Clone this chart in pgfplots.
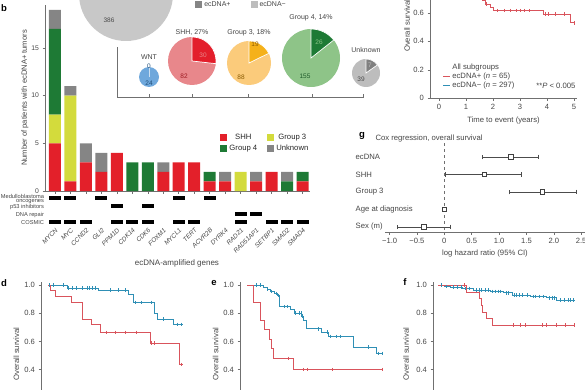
\documentclass[border=0pt]{standalone}
\usepackage{fontspec}
\setmainfont{Liberation Sans}
\usepackage{pgfplots}
\pgfplotsset{compat=1.18}
\definecolor{shh}{HTML}{E3202A}
\definecolor{gthree}{HTML}{D3DB3C}
\definecolor{gfour}{HTML}{1E7A35}
\definecolor{unk}{HTML}{858585}
\definecolor{txt}{HTML}{454545}
\definecolor{axc}{HTML}{707070}
\definecolor{kmred}{HTML}{D9545C}
\definecolor{kmblue}{HTML}{2F8FB5}
\definecolor{wntl}{HTML}{6FA8DC}\definecolor{wntt}{HTML}{1F4E79}
\definecolor{shhl}{HTML}{E8878B}\definecolor{shhd}{HTML}{E31E2B}\definecolor{shht}{HTML}{9E1B22}
\definecolor{g3l}{HTML}{FBCB7B}\definecolor{g3d}{HTML}{F5B11A}\definecolor{g3t}{HTML}{8A5A00}
\definecolor{g4l}{HTML}{8EC488}\definecolor{g4d}{HTML}{1E7A35}\definecolor{g4t}{HTML}{1E5A2A}
\definecolor{unl}{HTML}{BDBDBD}\definecolor{und}{HTML}{808080}\definecolor{unt}{HTML}{4A4A4A}
\definecolor{bigl}{HTML}{C8C8C8}
\newcommand{\fs}[1]{\fontsize{#1}{#1}\selectfont}
\pgfdeclareplotmark{hbar}{\pgfpathrectangle{\pgfpoint{-6pt}{-2pt}}{\pgfpoint{12pt}{4pt}}\pgfusepathqfill}
\newcommand{\pie}[7]{%
  \fill[#6] (axis cs:#1,#2) circle[radius=#3pt];
  \filldraw[fill=#7, draw=white, line width=0.7pt] (axis cs:#1,#2) -- ++(0pt,#3pt) arc[start angle=90, delta angle={-360*(#4/(#4+#5))}, radius=#3pt] -- cycle;}
\pgfplotsset{
 base/.style={scale only axis, anchor=south west, clip=false,
   /pgf/number format/assume math mode=true,
   font=\fs{7.5},
   tick label style={text=txt, font=\fs{7.6}},
   label style={text=txt, font=\fs{7.7}},
   axis line style={axc, line width=0.5pt, -},
   tick style={axc, line width=0.5pt},
   tick align=outside, major tick length=2.5pt},
 km/.style={base, ymin=0, ymax=1.02,
   axis x line*=bottom, axis y line*=left,
   ytick={0,0.2,0.4,0.6,0.8,1.0}, yticklabels={0,0.2,0.4,0.6,0.8,1.0},
   xtick={0,1,2,3,4,5},
   ylabel={Overall survival},
   ylabel style={at={(axis description cs:-0.169,0.5)}, anchor=center}},
 kml/.style={const plot, line width=0.6pt},
 cens/.style={only marks, mark=|, mark size=1.8pt, line width=0.5pt, forget plot},
 sqleg/.style={legend image code/.code={\fill[##1, draw=none] (0pt,-3.5pt) rectangle (7pt,3.5pt);}},
 lineleg/.style={legend image code/.code={\draw[##1] (0pt,0pt) -- (7pt,0pt);}},
}
\begin{document}
\begin{tikzpicture}
\useasboundingbox (0,0) rectangle (585pt,-390pt);
% ---------------- b: stacked bars
\begin{axis}[base, at={(45pt,-191pt)}, width=265pt, height=186pt,
  ybar stacked, bar width=12pt,
  xmin=-0.646, xmax=16.485, ymin=0, ymax=19.5,
  axis x line*=bottom, axis y line*=left,
  xtick={0,...,16}, xticklabels={},
  ytick={0,5,10,15},
  tick label style={font=\fs{6.8}},
  ylabel={Number of patients with ecDNA+ tumors},
  ylabel style={font=\fs{7.6}, at={(axis description cs:-0.0755,0.5)}, anchor=center},
  legend columns=2,
  legend style={at={(axis description cs:0.65,0.33)}, anchor=north west, draw=none, fill=none, font=\fs{7.7}, text=black!85, /tikz/every even column/.append style={column sep=8pt}},
]
\addplot[fill=shh, draw=none, sqleg] coordinates {(0,5)(1,1)(2,3)(3,2)(4,4)(5,0)(6,0)(7,2)(8,3)(9,3)(10,1)(11,1)(12,0)(13,1)(14,2)(15,0)(16,1)};
\addplot[fill=gthree, draw=none, sqleg] coordinates {(0,3)(1,9)(2,0)(3,0)(4,0)(5,0)(6,0)(7,0)(8,0)(9,0)(10,0)(11,0)(12,2)(13,0)(14,0)(15,0)(16,0)};
\addplot[fill=gfour, draw=none, sqleg] coordinates {(0,9)(1,0)(2,0)(3,0)(4,0)(5,3)(6,3)(7,0)(8,0)(9,0)(10,1)(11,0)(12,0)(13,0)(14,0)(15,1)(16,1)};
\addplot[fill=unk, draw=none, sqleg] coordinates {(0,2)(1,1)(2,2)(3,2)(4,0)(5,0)(6,0)(7,1)(8,0)(9,0)(10,0)(11,1)(12,0)(13,1)(14,0)(15,1)(16,0)};
\legend{SHH, Group 3, Group 4, Unknown}
\end{axis}
% ---------------- b: annotation matrix
\begin{axis}[base, at={(45pt,-226pt)}, width=265pt, height=32pt,
  xmin=-0.646, xmax=16.485, ymin=0.5, ymax=4.5, y dir=reverse,
  axis line style={draw=none}, major tick length=0pt,
  xtick={0,...,16},
  xticklabels={MYCN,MYC,CCND2,GLI2,PPM1D,CDK14,CDK6,FOXM1,MYCL1,TERT,ACVR2B,DYRK4,RAD21,RAD51AP1,SETBP1,SMAD2,SMAD4},
  xticklabel style={rotate=45, anchor=north east, font=\fs{6.4}\itshape, inner sep=1pt},
  ytick={1,2,3,4},
  yticklabels={{Medulloblastoma\\[-2.2pt]oncogenes}, p53 inhibitors, DNA repair, COSMIC},
  yticklabel style={align=right, font=\fs{5.7}, inner sep=0.8pt, yshift=-1pt},
]
\addplot[only marks, mark=hbar, black] coordinates {(0,1)(1,1)(3,1)(8,1)(10,1)(4,2)(6,2)(12,3)(13,3)(0,4)(1,4)(2,4)(4,4)(5,4)(6,4)(8,4)(9,4)(12,4)(14,4)(15,4)(16,4)};
\end{axis}
\node[font=\fs{8}, text=txt] at (177pt,-263pt) {ecDNA-amplified genes};
% ---------------- pie inset
\begin{axis}[base, at={(117pt,-97pt)}, width=247pt, height=50pt,
  xmin=117, xmax=364, ymin=-97, ymax=-47,
  axis x line*=bottom, axis y line*=left,
  xtick={149,192,248,312,363}, xticklabels={}, ytick=\empty,
  tick align=inside, major tick length=3pt,
  legend columns=2,
  legend style={at={(axis description cs:0.304,2.0)}, anchor=north west, draw=none, fill=none, font=\fs{7}, text=txt, /tikz/every even column/.append style={column sep=18pt}},
]
\addlegendimage{sqleg, fill=unk}\addlegendentry{ecDNA+}
\addlegendimage{sqleg, fill=unl}\addlegendentry{ecDNA−}
\pie{126}{6}{47}{82}{386}{bigl}{und}
\node[font=\fs{6.5}, text=unt] at (axis cs:109,-20) {386};
\pie{149}{-77}{10}{0}{24}{wntl}{wntl}
\node[font=\fs{7}, text=txt] at (axis cs:149,-57) {WNT};
\node[font=\fs{6.5}, text=wntt] at (axis cs:149,-66) {0};
\node[font=\fs{6.5}, text=wntt] at (axis cs:149,-83) {24};
\pie{192}{-61}{24}{30}{82}{shhl}{shhd}
\node[font=\fs{7}, text=txt] at (axis cs:192,-33) {SHH, 27\%};
\node[font=\fs{6.5}, text=shhl] at (axis cs:203,-55) {30};
\node[font=\fs{6.5}, text=shht] at (axis cs:184,-76) {82};
\pie{249}{-63}{22}{19}{88}{g3l}{g3d}
\node[font=\fs{7}, text=txt] at (axis cs:249,-33) {Group 3, 18\%};
\node[font=\fs{6.5}, text=g3t] at (axis cs:255,-44) {19};
\node[font=\fs{6.5}, text=g3t] at (axis cs:241,-77) {88};
\pie{311}{-58}{29}{26}{155}{g4l}{g4d}
\node[font=\fs{7}, text=txt] at (axis cs:311,-18) {Group 4, 14\%};
\node[font=\fs{6.5}, text=g4l] at (axis cs:319,-42) {26};
\node[font=\fs{6.5}, text=g4t] at (axis cs:305,-76) {155};
\pie{366}{-73}{14}{7}{39}{unl}{und}
\node[font=\fs{7}, text=txt] at (axis cs:366,-50) {Unknown};
\node[font=\fs{6.5}, text=unl] at (axis cs:370,-65) {7};
\node[font=\fs{6.5}, text=unt] at (axis cs:361,-79) {39};
\end{axis}
% ---------------- g: forest plot
\begin{axis}[base, at={(385pt,-232pt)}, width=200pt, height=89pt,
  xmin=-1.084, xmax=2.57, ymin=0.2, ymax=5.29, y dir=reverse,
  axis x line*=bottom, axis y line*=left, y axis line style={draw=none},
  xtick={-1,-0.5,0,0.5,1,1.5,2,2.5},
  xticklabels={−1.0,−0.5,0,0.5,1.0,1.5,2.0,2.5},
  ytick={1,2,3,4,5}, yticklabels={ecDNA,SHH,Group 3,Age at diagnosis,Sex (m)},
  y tick style={draw=none},
  yticklabel style={anchor=west, xshift=-27pt, inner sep=0pt, font=\fs{7.7}, text=txt},
  xlabel={log hazard ratio (95\% CI)},
]
\addplot[axc, dashed, line width=0.5pt] coordinates {(0,0.2)(0,5.29)};
\addplot[only marks, mark=square*, mark size=2.3pt, mark options={fill=white, draw=black!75, line width=0.6pt, solid},
  error bars/.cd, x dir=both, x explicit, error bar style={black!70, line width=0.6pt}] coordinates {
 (1.21,1) += (0.51,0) -= (0.51,0)
 (0.73,2) += (0.68,0) -= (0.71,0)
 (1.79,3) += (0.62,0) -= (0.61,0)
 (0.0,4) += (0.01,0) -= (0.01,0)
 (-0.38,5) += (0.48,0) -= (0.49,0)
};
\end{axis}
\node[font=\fs{7.7}, text=txt, anchor=west] at (372pt,-139pt) {Cox regression, overall survival};
% ---------------- c: KM all subgroups
\begin{axis}[km, at={(430pt,-98.3pt)}, width=147pt, height=145.4pt, xmin=-0.333, xmax=5.11,
  xlabel={Time to event (years)},
  ylabel style={at={(axis description cs:-0.156,0.5)}},
  legend style={at={(axis description cs:0.065,0.262)}, anchor=north west, draw=none, fill=none, font=\fs{7.7}, text=txt, row sep=-2.5pt},
  legend cell align=left,
]
\addlegendimage{empty legend}\addlegendentry{All subgroups}
\addplot[kmred, kml, lineleg] coordinates {(0,1)(0.3,0.97)(0.6,0.92)(0.9,0.86)(1.1,0.80)(1.3,0.75)(1.45,0.72)(1.6,0.69)(1.7,0.66)(1.9,0.64)(2.0,0.615)(3.85,0.59)(4.85,0.53)(5.0,0.53)};
\addlegendentry{ecDNA+ (\textit{n} = 65)}
\addplot[kmblue, kml, lineleg] coordinates {(0,1)(0.5,0.98)(1,0.95)(1.5,0.93)(2,0.90)(3,0.87)(4,0.85)(5,0.84)};
\addlegendentry{ecDNA− (\textit{n} = 297)}
\addplot[kmred, cens] coordinates {(1.75,0.66)(2.15,0.615)(2.4,0.615)(2.65,0.615)(2.85,0.615)(3.0,0.615)(3.15,0.615)(3.35,0.615)(3.95,0.59)(4.05,0.59)(4.3,0.59)(4.65,0.59)(5.0,0.53)};
\end{axis}
\node[font=\fs{7.7}, text=txt, anchor=east] at (579pt,-86pt) {**\textit{P} < 0.005};
% ---------------- d
\begin{axis}[km, at={(41pt,-426pt)}, width=145pt, height=143.8pt, xmin=-0.26, xmax=5.11]
\addplot[kmblue, kml] coordinates {(0,1)(0.7,0.98)(1.85,0.965)(2.96,0.936)(3.15,0.877)(3.93,0.80)(4.04,0.757)(4.63,0.72)(5.0,0.72)};
\addplot[kmred, kml] coordinates {(0,1)(0.07,0.965)(0.26,0.922)(0.88,0.877)(1.28,0.757)(1.62,0.72)(1.93,0.664)(3.78,0.587)(4.86,0.435)(5.0,0.435)};
\addplot[kmblue, cens] coordinates {(0.05,1)(0.2,1)(0.57,1)(0.75,0.98)(0.91,0.98)(1.06,0.98)(1.25,0.98)(1.46,0.98)(1.53,0.98)(1.62,0.98)(1.74,0.98)(2.3,0.965)(2.6,0.965)(2.85,0.965)(3.22,0.877)(3.47,0.877)(3.84,0.877)(4.27,0.757)(4.77,0.72)(4.95,0.72)};
\addplot[kmred, cens] coordinates {(2.17,0.664)(2.48,0.664)(2.85,0.664)(3.28,0.664)(3.84,0.587)(3.93,0.587)(4.95,0.435)};
\end{axis}
% ---------------- e
\begin{axis}[km, at={(240pt,-426pt)}, width=145pt, height=143.8pt, xmin=-0.26, xmax=5.11]
\addplot[kmblue, kml] coordinates {(0,1)(0.6,0.985)(0.75,0.97)(0.85,0.955)(1.0,0.94)(1.12,0.925)(1.2,0.847)(1.62,0.83)(1.75,0.80)(2.0,0.78)(2.1,0.75)(2.2,0.69)(2.75,0.665)(3.0,0.635)(3.94,0.56)(4.8,0.515)(5.0,0.515)};
\addplot[kmred, kml] coordinates {(0,1)(0.23,0.877)(0.48,0.752)(0.63,0.688)(0.83,0.615)(0.91,0.55)(0.97,0.48)(1.71,0.40)(5.0,0.40)};
\addplot[kmblue, cens] coordinates {(0.36,1)(0.48,1)(0.75,0.97)(0.91,0.955)(1.1,0.94)(1.16,0.925)(1.37,0.847)(1.49,0.847)(1.8,0.80)(1.93,0.80)(1.99,0.80)(2.05,0.78)(2.64,0.69)(2.97,0.665)(3.1,0.635)(3.29,0.635)(3.47,0.635)(4.49,0.56)(4.86,0.515)(4.99,0.515)};
\addplot[kmred, cens] coordinates {(1.53,0.48)(2.09,0.40)(2.23,0.40)(3.14,0.40)(5.0,0.40)};
\end{axis}
% ---------------- f
\begin{axis}[km, at={(433pt,-426pt)}, width=145pt, height=143.8pt, xmin=-0.2, xmax=5.17,
  ylabel style={at={(axis description cs:-0.186,0.5)}}]
\addplot[kmblue, kml] coordinates {(0,1)(0.2,0.99)(0.45,0.985)(0.9,0.975)(1.3,0.965)(1.91,0.955)(2.4,0.945)(2.72,0.93)(3.4,0.92)(4.0,0.91)(4.38,0.895)(5.05,0.895)};
\addplot[kmred, kml] coordinates {(0,1)(1.02,0.95)(1.52,0.906)(1.58,0.858)(1.64,0.81)(1.77,0.764)(1.98,0.716)(5.05,0.716)};
\addplot[kmblue, cens] coordinates {(0.1,1)(0.3,0.99)(0.55,0.985)(0.7,0.985)(0.85,0.985)(1.0,0.975)(1.15,0.975)(1.4,0.965)(1.5,0.965)(1.6,0.965)(1.75,0.965)(1.85,0.965)(2.0,0.955)(2.1,0.955)(2.2,0.955)(2.3,0.955)(2.5,0.945)(2.6,0.945)(2.8,0.93)(2.9,0.93)(3.0,0.93)(3.1,0.93)(3.3,0.93)(3.5,0.92)(3.6,0.92)(3.75,0.92)(3.9,0.92)(4.1,0.91)(4.2,0.91)(4.3,0.91)(4.5,0.895)(4.65,0.895)(4.8,0.895)(4.9,0.895)(5.0,0.895)};
\addplot[kmred, cens] coordinates {(0.94,1)(2.78,0.716)(3.03,0.716)(3.21,0.716)(3.83,0.716)(4.01,0.716)(4.36,0.716)(4.69,0.716)(5.02,0.716)};
\end{axis}
% panel letters
\node[font=\bfseries\fs{9.5}] at (4pt,-8pt) {b};
\node[font=\bfseries\fs{9.5}] at (4pt,-283pt) {d};
\node[font=\bfseries\fs{9.5}] at (214pt,-283pt) {e};
\node[font=\bfseries\fs{9.5}] at (405pt,-282pt) {f};
\node[font=\bfseries\fs{9.5}] at (362pt,-136pt) {g};
\end{tikzpicture}
\end{document}
